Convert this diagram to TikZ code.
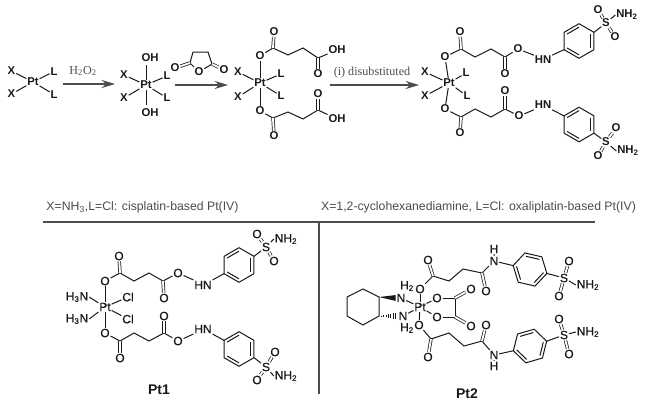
\documentclass[tikz,border=0pt]{standalone}
\usepackage{fontspec}
\setmainfont{Liberation Serif}
\setsansfont{Liberation Sans}
\newfontfamily\atomfont[FakeBold=0.7]{Liberation Sans}
\usetikzlibrary{calc, arrows.meta}
\definecolor{mainBlack}{gray}{0.1}
\definecolor{mainGray}{gray}{0.3}
\newcommand{\NHb}{NH\textsubscript{2}}
\newcommand{\HcN}{H\textsubscript{3}N}
\newcommand{\Hb}{H\textsubscript{2}}
\newcommand{\benzene}[3]{%
    \coordinate (#1) at #2;
    \foreach \k in {1,...,6} \coordinate (#1\k) at ($(#1)+({#3+60*\k}:17.3)$);
    \draw[bond] (#11) -- (#12) -- (#13) -- (#14) -- (#15) -- (#16) -- cycle;
    \foreach \u/\v in {1/2,3/4,5/6} \draw[bond] ($(#1\u)!.2!(#1)$) -- ($(#1\v)!.2!(#1)$);
}
\tikzset{
    atom/.style={font=\atomfont\fontsize{9}{10}\selectfont, text=mainBlack, inner sep=.5pt},
    atomb/.style={font=\sffamily\bfseries\fontsize{8.5}{10}\selectfont, text=mainBlack, inner sep=.5pt},
    bond/.style={line width=.75pt, mainBlack},
    dbond/.style={double, double distance=1.4pt, line width=.55pt, mainBlack},
    rxn/.style={-{Stealth[length=10pt,width=6pt]}, line width=.9pt, mainGray},
    rxnlabel/.style={font=\rmfamily\fontsize{9.1}{11}\selectfont, text=mainGray, inner sep=0pt},
    caption/.style={font=\sffamily\fontsize{9.2}{11}\selectfont, text=mainGray, inner sep=0pt},
    title/.style={font=\sffamily\bfseries\fontsize{10.5}{12}\selectfont, text=mainBlack, inner sep=0pt},
    panel/.style={line width=1pt, mainGray}
}
\begin{document}
\begin{tikzpicture}[x=.75pt, y=-.75pt]
    \useasboundingbox (0,0) rectangle (650,411);

    % starting complex
    \foreach \n/\x/\y/\lab in {aPt/33/82/Pt, aX1/11.5/71/X, aX2/11.5/94/X, aL1/54/71.5/L, aL2/54/94.5/L}
        \node[atomb] (\n) at (\x,\y) {\lab};
    \foreach \v in {aX1,aX2,aL1,aL2} \draw[bond] (aPt) -- (\v);

    % oxidised complex
    \foreach \n/\x/\y/\lab in {bPt/146/85/Pt, bX1/124/75/X, bX2/124/98/X, bL1/167/76/L, bL2/167/98/L, bO1/150/58/OH, bO2/150/112.5/OH}
        \node[atomb] (\n) at (\x,\y) {\lab};
    \foreach \n/\x/\y in {bT1/146/65, bT2/146/105}
        \coordinate (\n) at (\x,\y);
    \foreach \v in {bX1,bX2,bL1,bL2,bT1,bT2} \draw[bond] (bPt) -- (\v);

    % anhydride
    \coordinate (sC1) at (190,63);
    \coordinate (sC2) at (193,52);
    \coordinate (sC3) at (208,52);
    \coordinate (sC4) at (212,64);
    \foreach \n/\x/\y in {sO1/199/72, sO2/175/68, sO3/224/70}
        \node[atomb] (\n) at (\x,\y) {O};
    \draw[bond] (sO1) -- (sC1) -- (sC2) -- (sC3) -- (sC4) -- (sO1);
    \draw[dbond] (sC1) -- (sO2);
    \draw[dbond] (sC4) -- (sO3);

    % diacid
    \foreach \n/\x/\y/\lab in {cPt/260/83/Pt, cX1/238/72/X, cX2/238/97/X, cL1/281/74/L, cL2/281/96/L,
        cO1/260/56/O, cO2/274/32/O, cO3/318/74/O, cO4/337/50/OH, cO5/260/111/O, cO6/274/136/O, cO7/318/94/O, cO8/337/119/OH}
        \node[atomb] (\n) at (\x,\y) {\lab};
    \foreach \n/\x/\y in {cC1/273/48, cC2/288/55, cC3/303/48, cC4/318/58, cC5/273/118, cC6/288/112, cC7/303/119, cC8/318/110}
        \coordinate (\n) at (\x,\y);
    \foreach \v in {cX1,cX2,cL1,cL2,cO1,cO5} \draw[bond] (cPt) -- (\v);
    \draw[bond] (cO1) -- (cC1) -- (cC2) -- (cC3) -- (cC4) -- (cO4);
    \draw[bond] (cO5) -- (cC5) -- (cC6) -- (cC7) -- (cC8) -- (cO8);
    \foreach \u/\v in {cC1/cO2, cC4/cO3, cC5/cO6, cC8/cO7} \draw[dbond] (\u) -- (\v);

    % disubstituted product
    \foreach \n/\x/\y/\lab in {dPt/449/83/Pt, dX1/425/72/X, dX2/425/96/X, dL1/466/73/L, dL2/467/96/L,
        dO1/445/57/O, dO2/460/32/O, dO3/505/74/O, dO4/518/49/O, dN1/543/60/HN, dS1/606/23/S, dO5/598/10/O, dO6/615/37/O, dN2/627/15/\NHb,
        dO7/445/109/O, dO8/460/133/O, dO9/505/91/O, dO10/519/116/O, dN3/543/105/HN, dS2/606/142/S, dO11/616/128/O, dO12/598/156/O, dN4/628/151/\NHb}
        \node[atomb] (\n) at (\x,\y) {\lab};
    \foreach \n/\x/\y in {dC1/461/49, dC2/475/57, dC3/491/49, dC4/505/57, dC5/461/117, dC6/475/109, dC7/491/117, dC8/505/109}
        \coordinate (\n) at (\x,\y);
    \benzene{dR}{(579,41)}{30}
    \benzene{dQ}{(579,124.5)}{30}
    \foreach \v in {dX1,dX2,dL1,dL2,dO1,dO7} \draw[bond] (dPt) -- (\v);
    \draw[bond] (dO1) -- (dC1) -- (dC2) -- (dC3) -- (dC4) -- (dO4) -- (dN1.north west);
    \draw[bond] (dO7) -- (dC5) -- (dC6) -- (dC7) -- (dC8) -- (dO10) -- (dN3.south west);
    \draw[bond] (dN1.north east) -- (dR2);
    \draw[bond] (dN3.south east) -- (dQ3);
    \draw[bond] (dR5) -- (dS1) -- (dN2.west);
    \draw[bond] (dQ6) -- (dS2) -- (dN4.west);
    \foreach \u/\v in {dC1/dO2, dC4/dO3, dC5/dO8, dC8/dO9, dS1/dO5, dS1/dO6, dS2/dO11, dS2/dO12}
        \draw[dbond] (\u) -- (\v);

    % arrows
    \foreach \n/\x/\y in {arA/63/84, arB/115/84, arC/175/85, arD/228/85, arE/330/85, arF/419/85}
        \coordinate (\n) at (\x,\y);
    \draw[rxn] (arA) -- (arB);
    \draw[rxn] (arC) -- (arD);
    \draw[rxn] (arE) -- (arF);
    \node[rxnlabel] (labA) at (83,71) {H\textsubscript{2}O\textsubscript{2}};
    \node[rxnlabel] (labB) at (372,73) {(i) disubstituted};

    % captions and panel rules
    \node[caption] (capA) at (142.5,207) {X=NH\textsubscript{3},L=Cl: cisplatin-based Pt(IV)};
    \node[caption] (capB) at (478.5,207) {X=1,2-cyclohexanediamine, L=Cl: oxaliplatin-based Pt(IV)};
    \foreach \n/\x/\y in {pnA/43/222, pnB/595/222, pnC/319/222, pnD/319/394}
        \coordinate (\n) at (\x,\y);
    \draw[panel] (pnA) -- (pnB);
    \draw[panel] (pnC) -- (pnD);

    % Pt1
    \foreach \n/\x/\y/\lab in {ePt/105/307/Pt, eH1/77/297/\HcN, eH2/77/319/\HcN, eL1/128/297/Cl, eL2/128/319/Cl,
        eO1/105/281/O, eO2/119/256/O, eO3/164/298/O, eO4/178/273/O, eN1/203/285/HN, eS1/266/247/S, eO5/257/234/O, eO6/274/261/O, eN2/286/239/\NHb,
        eO7/105/333/O, eO8/120/358/O, eO9/164/316/O, eO10/178/341/O, eN3/203/329/HN, eS2/266/367/S, eO11/275/352/O, eO12/257/380/O, eN4/286/376/\NHb}
        \node[atom] (\n) at (\x,\y) {\lab};
    \foreach \n/\x/\y in {eC1/120/273, eC2/134/281, eC3/149/273, eC4/163/281, eC5/120/341, eC6/134/333, eC7/149/341, eC8/164/333}
        \coordinate (\n) at (\x,\y);
    \benzene{eR}{(239,265)}{30}
    \benzene{eQ}{(239,349)}{30}
    \foreach \v in {eL1,eL2,eO1,eO7} \draw[bond] (ePt) -- (\v);
    \draw[bond] (ePt) -- (eH1.east);
    \draw[bond] (ePt) -- (eH2.east);
    \draw[bond] (eO1) -- (eC1) -- (eC2) -- (eC3) -- (eC4) -- (eO4) -- (eN1.north west);
    \draw[bond] (eO7) -- (eC5) -- (eC6) -- (eC7) -- (eC8) -- (eO10) -- (eN3.south west);
    \draw[bond] (eN1.north east) -- (eR2);
    \draw[bond] (eN3.south east) -- (eQ3);
    \draw[bond] (eR5) -- (eS1) -- (eN2.west);
    \draw[bond] (eQ6) -- (eS2) -- (eN4.west);
    \foreach \u/\v in {eC1/eO2, eC4/eO3, eC5/eO8, eC8/eO9, eS1/eO5, eS1/eO6, eS2/eO11, eS2/eO12}
        \draw[dbond] (\u) -- (\v);
    \node[title] (ptA) at (159,390) {Pt1};

    % Pt2
    \foreach \n/\x/\y/\lab in {fPt/420/307/Pt, fN1/401/298/N, fN2/403/316/N, fH1/407/286/\Hb, fH2/407/328/\Hb,
        fO1/420/289/O, fO2/419/325/O, fO3/437/298/O, fO4/437/317/O, fO5/471/289/O, fO6/471/326/O,
        fO7/428/260/O, fO8/486/291/O, fN3/494/261/N, fH3/494/249/H, fS1/564/278/S, fO9/569/261/O, fO10/559/296/O, fN4/588/285/\NHb,
        fO11/428/357/O, fO12/486/325/O, fN5/494/355/N, fH4/494/366/H, fS2/564/335/S, fO13/559/319/O, fO14/569/354/O, fN6/588/332/\NHb}
        \node[atom] (\n) at (\x,\y) {\lab};
    \foreach \n/\x/\y in {fA1/347/297, fA2/363/289, fA4/379/316, fA5/363/325, fA6/347/316,
        fC1/455/298, fC2/455/317, fC3/433/276, fC4/449/281, fC5/463/269, fC6/482/273,
        fC7/431/339, fC8/449/333, fC9/464/346, fC10/482/341}
        \coordinate (\n) at (\x,\y);
    \coordinate (fA3) at (379,297);
    \draw[bond] (fA1) -- (fA2) -- (fA3) -- (fA4) -- (fA5) -- (fA6) -- cycle;
    \fill[mainBlack] (fA3) -- ([yshift=2.2pt]fN1.west) -- ([yshift=-2.2pt]fN1.west) -- cycle;
    \foreach \s in {1,...,7}
        \draw[bond, line width=.5pt] ($(fA4)!{\s/8}!(fN2.west)+(0,{-\s*.45})$) -- ($(fA4)!{\s/8}!(fN2.west)+(0,{\s*.45})$);
    \foreach \v in {fN1,fN2,fO1,fO2,fO3,fO4} \draw[bond] (fPt) -- (\v);
    \draw[bond] (fO3) -- (fC1) -- (fC2) -- (fO4);
    \draw[bond] (fO1) -- (fC3) -- (fC4) -- (fC5) -- (fC6) -- (fN3) -- (fH3);
    \draw[bond] (fO2) -- (fC7) -- (fC8) -- (fC9) -- (fC10) -- (fN5) -- (fH4);
    \benzene{fR}{(530,269.5)}{193}
    \benzene{fQ}{(530,346)}{164}
    \draw[bond] (fN3) -- (fR6);
    \draw[bond] (fN5) -- (fQ6);
    \draw[bond] (fR3) -- (fS1) -- (fN4.west);
    \draw[bond] (fQ3) -- (fS2) -- (fN6.west);
    \foreach \u/\v in {fC1/fO5, fC2/fO6, fC3/fO7, fC6/fO8, fC7/fO11, fC10/fO12, fS1/fO9, fS1/fO10, fS2/fO13, fS2/fO14}
        \draw[dbond] (\u) -- (\v);
    \node[title] (ptB) at (467,394) {Pt2};
\end{tikzpicture}
\end{document}
